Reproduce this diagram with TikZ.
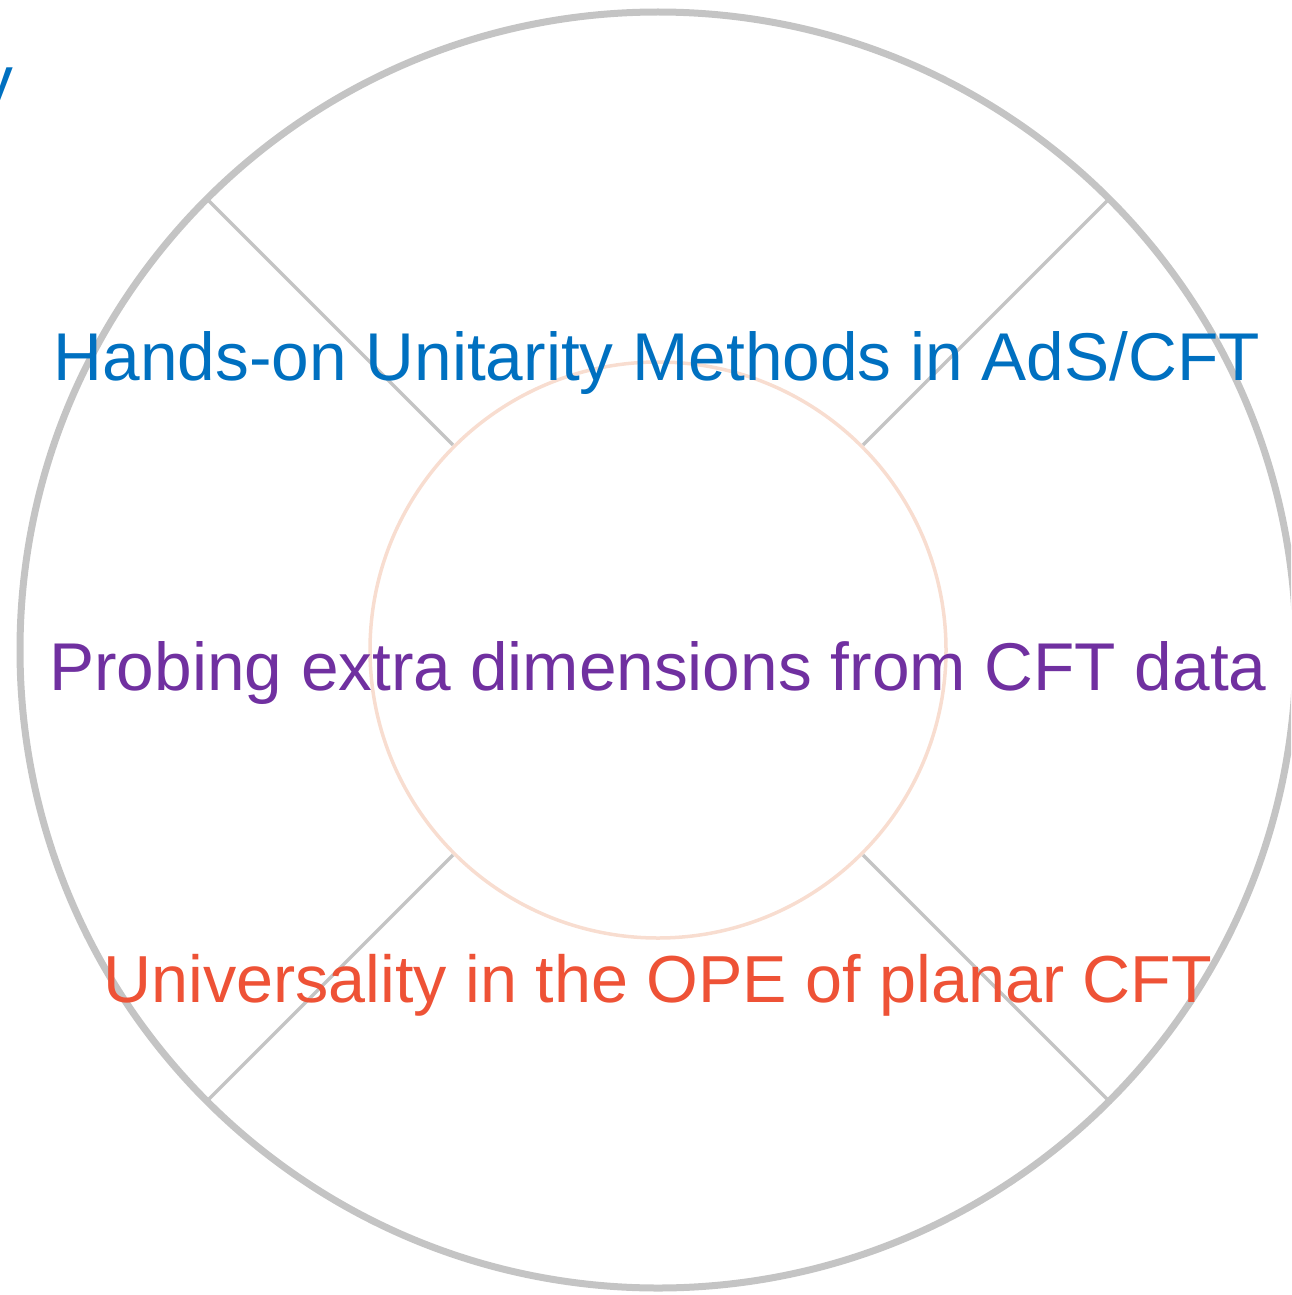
\documentclass[tikz,border=0pt]{standalone}
\usepackage{fontspec}
\setmainfont{Liberation Sans}
\usetikzlibrary{calc}
\definecolor{ringgray}{HTML}{C4C4C4}
\definecolor{peach}{HTML}{F8DDD0}
\definecolor{tblue}{HTML}{0070C0}
\definecolor{tpurple}{HTML}{7030A0}
\definecolor{tred}{HTML}{EE5236}
\begin{document}
\begin{tikzpicture}[x=1pt,y=-1pt,
  lbl/.style={inner sep=0pt,anchor=base,font=\fontsize{67.6}{80}\selectfont},
  spoke/.style={draw=ringgray,line width=3.5pt}]
\useasboundingbox (0,0) rectangle (1291,1295);
\begin{scope}
\clip (0,0) rectangle (1291,1295);
\coordinate (c) at (658,650);
\node[lbl,tblue,anchor=base east] (frag) at (14,104) {y};
\draw[ringgray,line width=7pt] (c) circle (638);
\draw[peach,line width=3.5pt] (c) circle (288);
\foreach \a/\n in {45/a,135/b,225/d,315/e}{
  \coordinate (i\n) at ($(c)+(\a:290)$);
  \coordinate (o\n) at ($(c)+(\a:636)$);
  \draw[spoke] (i\n) -- (o\n);
}
\node[lbl,tblue] (t1) at (657,380) {Hands-on Unitarity Methods in AdS/CFT};
\node[lbl,tpurple] (t2) at (658,690) {Probing extra dimensions from CFT data};
\node[lbl,tred,font=\fontsize{66.5}{80}\selectfont] (t3) at (658,1002) {Universality in the OPE of planar CFT};
\end{scope}
\end{tikzpicture}
\end{document}
